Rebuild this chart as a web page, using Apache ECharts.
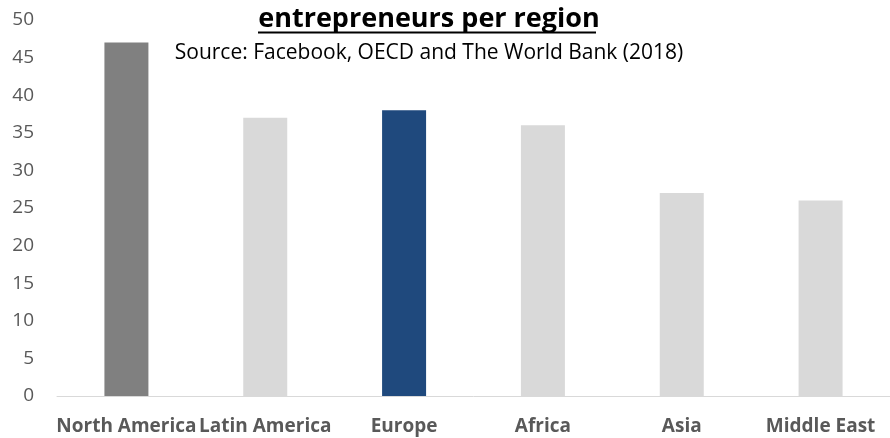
<!DOCTYPE html>
<html><head><meta charset="utf-8">
<script src="https://cdn.jsdelivr.net/npm/echarts@6/dist/echarts.min.js"></script>
<style>html,body{margin:0;padding:0;background:#fff}#c{width:890px;height:438px}</style>
</head><body><div id="c"></div>
<script>
const categories = ["North America","Latin America","Europe","Africa","Asia","Middle East"];
const values = [47, 37, 38, 36, 27, 26];
const barColors = ["#808080","#d9d9d9","#1f497d","#d9d9d9","#d9d9d9","#d9d9d9"];
const titleText = "entrepreneurs per region";
const subtitleText = "Source: Facebook, OECD and The World Bank (2018)";

const chart = echarts.init(document.getElementById('c'));
chart.setOption({
  animation: false,
  title: {
    text: titleText,
    subtext: subtitleText,
    left: 424, top: 1, textAlign: 'center',
    itemGap: 10,
    textStyle: {fontFamily: 'Open Sans', fontWeight: 'bold', fontSize: 27, color: '#000'},
    subtextStyle: {fontFamily: 'Open Sans', fontSize: 21, color: '#000'}
  },
  graphic: [{
    type: 'line', id: 'ul',
    shape: {x1: 258, y1: 32.5, x2: 596, y2: 32.5},
    style: {stroke: '#000', lineWidth: 2}
  }],
  grid: {left: 57, right: -7, top: 20, bottom: 42},
  xAxis: {
    type: 'category', data: categories,
    axisLine: {lineStyle: {color: '#d9d9d9', width: 1}},
    axisTick: {show: false},
    axisLabel: {interval: 0, margin: 21, fontFamily: 'Open Sans', fontWeight: 'bold', fontSize: 19, color: '#595959'}
  },
  yAxis: {
    type: 'value', min: 0, max: 50, interval: 5,
    splitLine: {show: false},
    axisLine: {show: false}, axisTick: {show: false},
    axisLabel: {margin: 23, fontFamily: 'Open Sans', fontSize: 19, color: '#595959'}
  },
  series: [{
    type: 'bar', barWidth: 44,
    data: values.map((v, i) => ({value: v, itemStyle: {color: barColors[i]}}))
  }]
});
</script></body></html>
